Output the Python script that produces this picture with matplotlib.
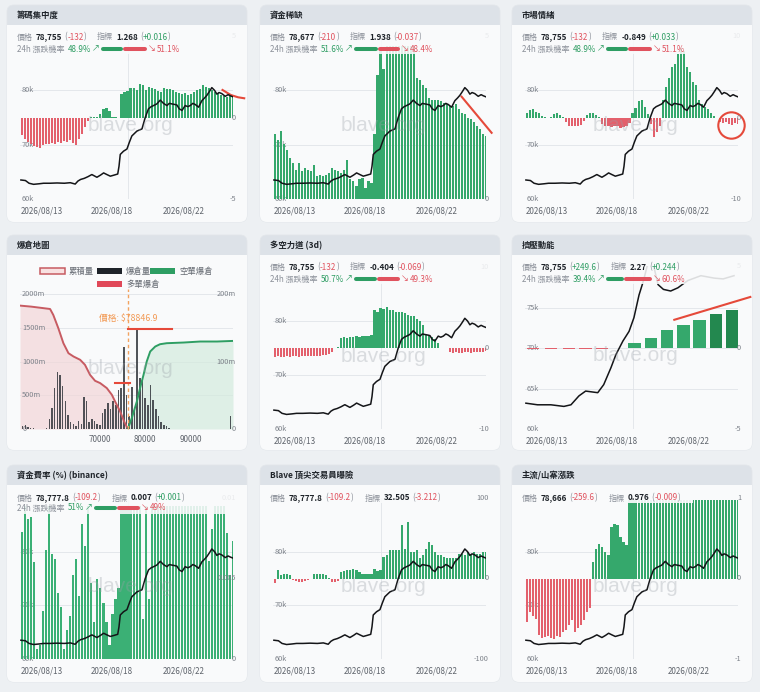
import matplotlib
matplotlib.use('Agg')
import numpy as np
import matplotlib.pyplot as plt
from matplotlib.patches import FancyBboxPatch, Rectangle
from matplotlib import transforms

plt.rcParams['font.family'] = ['Noto Sans CJK TC', 'DejaVu Sans']

W, H = 760, 692

# ---------------- data ----------------
# BTC price (k USD), days since 2026/08/13
price_day = [0.00, 0.25, 0.45, 0.70, 1.00, 1.25, 1.60, 2.00, 2.40, 2.73, 3.00, 3.15, 3.30,
             3.50, 3.70, 3.92, 4.20, 4.40, 4.57, 4.75, 4.94, 5.15, 5.35, 5.42, 5.49, 5.67,
             5.86, 6.00, 6.13, 6.41, 6.69, 6.87, 7.05, 7.20, 7.33, 7.51, 7.70, 7.88, 8.07,
             8.20, 8.34, 8.50, 8.62, 8.75, 8.90, 9.08, 9.22, 9.36, 9.50, 9.63, 9.82, 10.00,
             10.15, 10.28, 10.42, 10.55, 10.70, 10.83, 10.95, 11.10, 11.29, 11.45, 11.57, 11.72]
price_k = [63.5, 63.4, 62.9, 62.7, 62.8, 62.9, 62.9, 62.95, 62.9, 63.0, 62.75, 63.3, 63.6,
           63.8, 64.1, 64.5, 64.0, 64.4, 64.8, 64.5, 64.2, 64.4, 64.6, 66.0, 68.2, 68.8,
           69.2, 70.5, 71.6, 72.5, 72.9, 75.0, 76.6, 77.0, 77.2, 77.5, 78.2, 77.6, 77.2,
           77.6, 77.5, 77.4, 77.3, 76.6, 76.3, 77.2, 77.0, 77.2, 77.6, 77.4, 76.9, 78.1,
           78.6, 79.1, 79.8, 80.5, 80.0, 79.3, 79.6, 79.4, 78.9, 79.2, 79.0, 78.8]

date_day = [0, 5, 9]
date_lab = ['2026/08/13', '2026/08/18', '2026/08/22']
vlines = [5.93]

# 4h indicator bars
conc = [-1.1, -1.3, -1.5, -1.65, -1.75, -1.8, -1.85, -1.7, -1.6, -1.65, -1.55, -1.6, -1.5,
        -1.55, -1.45, -1.5, -1.4, -1.55, -1.7, -1.3, -1.0, -0.6, -0.2,
        0.03, 0.05, 0.02, 0.2, 0.5, 0.6, 0.4, 0.05, 0.02, -0.03,
        1.45, 1.55, 1.65, 1.78, 1.84, 1.7, 2.05, 2.0, 1.7, 1.85, 1.78, 1.72, 1.65, 1.58,
        1.78, 1.72, 1.72, 1.68, 1.58, 1.48, 1.43, 1.5, 1.38, 1.45, 1.58, 1.68, 1.72, 1.98,
        1.85, 1.78, 1.68, 1.58, 1.52, 1.4, 1.3, 1.27, 1.3, 1.27]
scarcity = [2.0, 1.8, 2.1, 1.7, 1.5, 1.25, 1.1, 0.9, 1.1, 0.85,
            0.95, 0.9, 0.85, 1.05, 0.7, 0.75, 0.7, 0.75, 0.8, 0.95,
            0.9, 0.85, 0.8, 0.9, 1.2, 0.6, 0.55, 0.4, 0.6, 0.65,
            0.35, 0.55, 0.5, 2.0, 3.8, 4.6, 4.0, 4.7, 4.7, 4.7,
            4.7, 4.7, 4.7, 4.7, 4.7, 4.7, 4.7, 3.7, 3.65, 3.5,
            3.4, 3.1, 3.05, 3.05, 3.05, 3.0, 2.95, 2.9, 2.85, 2.85,
            2.9, 2.75, 2.65, 2.6, 2.5, 2.45, 2.35, 2.25, 2.15, 2.0, 1.94]
sentiment = [0.5, 0.9, 1.1, 0.7, 0.5, 0.15, 0.05, 0.0, 0.05,
             0.4, 0.5, 0.3, 0.1,
             -0.6, -1.1, -1.1, -1.0, -1.1, -0.9, -0.4,
             0.3, 0.6, 0.5, 0.3, 0.1,
             -0.8, -1.0, -1.1, -1.2, -1.0, -1.1, -1.3, -1.2, -1.0, -0.7,
             0.6, 1.2, 2.0, 2.1, 1.3, 0.4,
             -0.8, -2.4, -1.8, -1.0,
             2.1, 3.8, 4.8, 6.2, 6.6, 7.8, 8.5, 8.2, 6.2, 5.6, 4.4, 4.0, 2.1, 1.7, 1.3, 1.1, 0.6, 0.2,
             -0.1, -0.6, -0.7, -0.6, -0.8, -0.9, -0.7, -0.85]
ls_force = [-1.05, -1.0, -1.1, -1.05, -1.0, -1.05, -1.0, -1.0, -1.05, -1.0,
            -1.0, -0.95, -1.0, -1.0, -0.95, -1.0, -0.9, -0.85, -0.7, -0.45,
            0.05, 0.1,
            1.2, 1.3, 1.25, 1.3, 1.35, 1.45, 1.4, 1.5, 1.45, 1.5, 1.6,
            4.7, 4.5, 4.95, 4.8, 5.1, 4.7, 4.75, 4.5, 4.5, 4.4, 4.3, 4.05, 4.0, 3.9, 3.6, 3.3, 2.9,
            1.6, 1.5, 1.4, 1.1, 0.6,
            0.05, 0.02, -0.05,
            -0.5, -0.6, -0.55, -0.6, -0.6, -0.5, -0.55, -0.6, -0.5, -0.45, -0.5, -0.45, -0.4]
funding = [0.0079, 0.0095, 0.0087, 0.0088, 0.006, 0.0006, 0.0009, 0.003, 0.0068, 0.0095,
           0.0065, 0.0062, 0.0041, 0.0032, 0.0006, 0.0018, 0.0027, 0.0052, 0.0062, 0.0039,
           0.0084, 0.007, 0.0095, 0.0047, 0.0023, 0.005, 0.0044, 0.0035, 0.0023, 0.0009,
           0.0028, 0.0037, 0.0044, 0.0095, 0.0095, 0.0095, 0.0095, 0.0095, 0.0095, 0.0095,
           0.0025, 0.0095, 0.0037, 0.0095, 0.0095, 0.0095, 0.0095, 0.0095, 0.0095, 0.0095,
           0.0095, 0.0095, 0.0095, 0.0095, 0.0095, 0.0095, 0.0095, 0.0095, 0.0095, 0.0095,
           0.0095, 0.0095, 0.0061, 0.0081, 0.0095, 0.0095, 0.0095, 0.0095, 0.0078, 0.0052, 0.0073]
top_trader = [-6, 10, 4, 6, 5, 4, -2, -3, -4, -4,
              -3, -2, -1, 5, 6, 6, 5, 4, 1, -4,
              -4, -3, 8, 9, 10, 10, 12, 10, 8, 6,
              6, 5, 6, 12, 9, 10, 27, 29, 35, 35,
              35, 35, 66, 37, 70, 33, 33, 35, 25, 29,
              37, 45, 41, 33, 29, 29, 27, 25, 25, 25,
              25, 31, 31, 29, 33, 31, 33, 31, 31, 33, 32.5]
alt_season = [-0.54, -0.42, -0.46, -0.5, -0.7, -0.74, -0.73, -0.71, -0.74, -0.75,
              -0.72, -0.73, -0.66, -0.64, -0.58, -0.52, -0.66, -0.62, -0.58, -0.52,
              -0.41, -0.37, 0.21, 0.37, 0.43, 0.39, 0.33, 0.29, 0.64, 0.68,
              0.66, 0.52, 0.45, 0.41] + [0.98] * 37

# squeeze momentum (daily) and its smoothed price
mom_day = [0.4, 1.4, 2.4, 3.3, 4.2, 6.0, 6.9, 7.8, 8.7, 9.6, 10.5, 11.4]
mom_val = [-0.1, -0.1, -0.1, -0.1, -0.1, 0.28, 0.6, 1.05, 1.4, 1.7, 2.03, 2.27]
mom_price_day = [0.0, 0.64, 1.38, 2.1, 2.49, 2.93, 3.3, 3.97, 4.3, 4.7, 4.97, 5.36, 5.7, 5.97,
                 6.25, 6.5, 6.7, 7.0, 7.3, 7.6, 8.0, 8.4, 8.7, 8.95, 9.67, 10.4, 10.9, 11.5]
mom_price_k = [63.2, 63.0, 63.0, 62.8, 63.0, 64.1, 64.7, 64.5, 65.5, 67.6, 69.2, 70.9, 72.1, 73.8,
               76.6, 78.4, 80.2, 80.8, 77.9, 77.3, 77.1, 77.5, 78.0, 78.4, 79.0, 78.7, 78.6, 79.0]

# liquidation map (price-level bins)
liq_vol = [0, 4, 6, 3, 2, 1, 0, 0, 0, 0, 2,
           15, 31, 61, 84, 80, 63, 41, 21, 10, 7,
           5, 12, 8, 47, 41, 10, 15, 12, 8, 6,
           24, 29, 38, 30, 41, 35, 58, 61, 122, 50,
           20, 62, 30, 150, 75, 73, 46, 36, 65, 43,
           30, 19, 11, 6, 4, 2, 0, 0, 0, 0] + [0] * 18 + [19]
long_cum_bin = [0, 4.2, 11.3, 12.5, 14.4, 16.3, 18.2, 20.1, 22.6, 24.4, 26.3, 28.2, 30.1,
                32.6, 34.5, 35.7, 37.6, 39.1, 40.5]
long_cum = [1828, 1813, 1778, 1690, 1493, 1271, 1123, 1074, 1025, 951, 803, 714, 680,
            606, 507, 409, 261, 113, 0]
short_cum_bin = [40.5, 42.0, 43.9, 45.1, 46.4, 47.6, 48.9, 50.8, 52.6, 55.1, 61.4, 67.7, 74.0, 80.0]
short_cum = [0, 163, 409, 606, 803, 1000, 1148, 1222, 1256, 1271, 1281, 1296, 1296, 1305]
liq_tick_bin = [30, 47, 64]
liq_tick_lab = ['70000', '80000', '90000']
liq_price_bin = 40.5
liq_price = 78846.9

# headers
titles = ['籌碼集中度', '資金稀缺', '市場情緒', '爆倉地圖', '多空力道 (3d)', '擠壓動能',
          '資金費率 (%) (binance)', 'Blave 頂尖交易員曝險', '主流/山寨漲跌']
h_price = ['78,755', '78,677', '78,755', None, '78,755', '78,755', '78,777.8', '78,777.8', '78,666']
h_pchg = ['-132', '-210', '-132', None, '-132', '+249.6', '-109.2', '-109.2', '-259.6']
h_ind = ['1.268', '1.938', '-0.849', None, '-0.404', '2.27', '0.007', '32.505', '0.976']
h_ichg = ['+0.016', '-0.037', '+0.033', None, '-0.069', '+0.244', '+0.001', '-3.212', '-0.009']
h_up = [48.9, 51.6, 48.9, None, 50.7, 39.4, 51, None, None]
h_up_txt = ['48.9%', '51.6%', '48.9%', None, '50.7%', '39.4%', '51%', None, None]
h_dn_txt = ['51.1%', '48.4%', '51.1%', None, '49.3%', '60.6%', '49%', None, None]

# ---------------- style ----------------
PAGE = '#edf0f3'
BAND = '#dde2e8'
BODY = '#f9fafb'
GRID = '#e1e4e8'
GREEN = '#35a86c'
RED = '#e3606c'
TGREEN = '#2e9d63'
TRED = '#e0525e'
GREY = '#8b9099'
DARK = '#1e2329'
ANNO = '#e5493a'

XMIN, XMAX = -0.05, 11.72
card_x = [7, 260, 512]
card_y = [5, 235, 465]
card_h = [217, 215, 217]
CW = 240

fig = plt.figure(figsize=(W / 100, H / 100), dpi=100)
fig.patch.set_facecolor(PAGE)
bg = fig.add_axes([0, 0, 1, 1], label='bg', zorder=0)
fg = fig.add_axes([0, 0, 1, 1], label='fg', zorder=30)
for a in (bg, fg):
    a.set_xlim(0, W)
    a.set_ylim(H, 0)
    a.axis('off')
renderer = fig.canvas.get_renderer()


def px_axes(x0, y0, x1, y1, label, z):
    ax = fig.add_axes([x0 / W, 1 - y1 / H, (x1 - x0) / W, (y1 - y0) / H], label=label, zorder=z)
    ax.axis('off')
    return ax


def card(cx, cy, ch, title):
    bg.add_patch(FancyBboxPatch((cx, cy), CW, ch, boxstyle='round,pad=0,rounding_size=7',
                                fc=BAND, ec='#e2e6ea', lw=0.6))
    bg.add_patch(FancyBboxPatch((cx, cy + 20), CW, ch - 20, boxstyle='round,pad=0,rounding_size=7',
                                fc=BODY, ec='none'))
    bg.add_patch(Rectangle((cx, cy + 20), CW, 10, fc=BODY, ec='none'))
    bg.text(cx + 10, cy + 10.5, title, fontsize=6, weight='bold', color=DARK, va='center')


def run(x, y, parts, size=5.8):
    for p in parts:
        if isinstance(p, (int, float)):
            x += p
        elif p[0] == 'bar':
            fg.plot([x + 2, x + p[2] - 2], [y, y], color=p[1], lw=2.9, solid_capstyle='round')
            x += p[2]
        else:
            t = fg.text(x, y, p[0], fontsize=size, color=p[1], weight=p[2], va='center', ha='left')
            x += t.get_window_extent(renderer).width
    return x


def chg_col(s):
    return TRED if s.startswith('-') else TGREEN


def header(i, cx, cy, r1, r2=None):
    if r2 is not None:
        fg.add_patch(Rectangle((cx + 1, cy + 20), CW - 2, 29, fc=BODY, ec='none', alpha=0.88))
    else:
        fg.add_patch(Rectangle((cx + 1, cy + 20), 180, 18, fc=BODY, ec='none', alpha=0.92))
    run(cx + 10, cy + r1, [('價格', GREY, 'normal'), 3, (h_price[i], DARK, 'bold'), 2,
                           ('(', GREY, 'normal'), (h_pchg[i], chg_col(h_pchg[i]), 'normal'),
                           (')', GREY, 'normal'), 11, ('指標', GREY, 'normal'), 3,
                           (h_ind[i], DARK, 'bold'), 2, ('(', GREY, 'normal'),
                           (h_ichg[i], chg_col(h_ichg[i]), 'normal'), (')', GREY, 'normal')])
    if r2 is not None:
        g = 46 * h_up[i] / 100
        run(cx + 10, cy + r2, [('24h 漲跌機率', GREY, 'normal'), 3, (h_up_txt[i], TGREEN, 'normal'), 1,
                               ('↗', TGREEN, 'normal'), 1, ('bar', TGREEN, g), ('bar', TRED, 46 - g), 1,
                               ('↘', TRED, 'normal'), 1, (h_dn_txt[i], TRED, 'normal')])


def watermark(ax):
    ax.text(0.52, 0.45, 'blave.org', transform=ax.transAxes, ha='center', va='center',
            fontsize=15, family='Liberation Sans', color='#9aa0a8', alpha=0.33, zorder=10)


def time_panel(i, cx, cy, top, vals, ylim, rticks, pday=price_day, pk=price_k,
               plim=(60, 90), lticks=(60, 70, 80), bx=None, width=0.12, colors=None):
    x0, x1, y0, y1 = cx + 13, cx + 226, cy + top, cy + 194
    axg = px_axes(x0, y0, x1, y1, f'g{i}', 2)
    axb = px_axes(x0, y0, x1, y1, f'b{i}', 3)
    axl = px_axes(x0, y0, x1, y1, f'l{i}', 4)
    for a in (axg, axb, axl):
        a.set_xlim(XMIN, XMAX)
    axg.set_ylim(*plim)
    axl.set_ylim(*plim)
    axb.set_ylim(*ylim)
    for v in lticks:
        axg.axhline(v, color=GRID, lw=0.6, zorder=0)
        axg.text(0.006, v, f'{v}k', transform=axg.get_yaxis_transform(), fontsize=5.3,
                 color='#7d828a', va='center', ha='left')
    axg.axvline(XMAX, color=GRID, lw=0.7, ls=(0, (3, 2)))
    for d in vlines:
        axg.axvline(d, color=GRID, lw=0.6)
    rtr = transforms.offset_copy(axb.get_yaxis_transform(), fig=fig, x=3, units='dots')
    for v, s in rticks:
        axb.text(1, v, s, transform=rtr, ha='right', va='center', fontsize=5.3, color='#7d828a')
    dtr = transforms.offset_copy(axg.get_xaxis_transform(), fig=fig, y=-12, units='dots')
    for k, (d, s) in enumerate(zip(date_day, date_lab)):
        axg.text(d, 0, s, transform=dtr, ha='left' if k == 0 else 'center', va='center',
                 fontsize=5.8, color='#5f646c')
    if bx is None:
        bx = np.arange(len(vals)) / 6 + 0.06
    if colors is None:
        colors = [GREEN if v >= 0 else RED for v in vals]
    axb.bar(bx, vals, width=width, color=colors, lw=0)
    axl.plot(pday, pk, color='#141518', lw=1.1)
    watermark(axl)
    return axb


# ---------------- cards ----------------
for i in range(9):
    r, c = divmod(i, 3)
    card(card_x[c], card_y[r], card_h[r], titles[i])

# 籌碼集中度
cx, cy = card_x[0], card_y[0]
ax = time_panel(0, cx, cy, 31, conc, (-5, 5), [(5, '5'), (0, '0'), (-5, '-5')])
ax.plot([11.14, 11.6, 12.0, 12.34], [1.69, 1.38, 1.24, 1.18], color=ANNO, lw=1.5, clip_on=False)
header(0, cx, cy, 32, 44)

# 資金稀缺
cx, cy = card_x[1], card_y[0]
ax = time_panel(1, cx, cy, 31, scarcity, (0, 5), [(5, '5'), (0, '0')])
ax.plot([10.37, 12.03], [3.14, 2.03], color=ANNO, lw=1.5, clip_on=False)
header(1, cx, cy, 32, 44)

# 市場情緒
cx, cy = card_x[2], card_y[0]
ax = time_panel(2, cx, cy, 31, sentiment, (-10, 10), [(10, '10'), (0, '0'), (-10, '-10')])
ax.plot([11.33], [-0.94], marker='o', ms=19, mfc='none', mec=ANNO, mew=1.5, clip_on=False)
header(2, cx, cy, 32, 44)

# 爆倉地圖
cx, cy = card_x[0], card_y[1]
x0, x1, y0, y1 = cx + 13, cx + 226, cy + 59, cy + 194
axc = px_axes(x0, y0, x1, y1, 'cum', 2)
axv = px_axes(x0, y0, x1, y1, 'vol', 3)
axc2 = px_axes(x0, y0, x1, y1, 'cum2', 4)
for a in (axc, axv, axc2):
    a.set_xlim(0, 80)
axc.set_ylim(0, 2000)
axc2.set_ylim(0, 2000)
axv.set_ylim(0, 200)
for v, s in zip([0, 500, 1000, 1500, 2000], ['0', '500m', '1000m', '1500m', '2000m']):
    axc.axhline(v, color=GRID, lw=0.6, zorder=0)
    axc.text(0.01, v, s, transform=axc.get_yaxis_transform(), fontsize=5.3, color='#7d828a',
             va='center', ha='left')
rtr = transforms.offset_copy(axv.get_yaxis_transform(), fig=fig, x=3, units='dots')
for v, s in [(200, '200m'), (100, '100m'), (0, '0')]:
    axv.text(1, v, s, transform=rtr, ha='right', va='center', fontsize=5.3, color='#7d828a')
axc.axvline(80, color=GRID, lw=0.7, ls=(0, (3, 2)))
axc.fill_between(long_cum_bin, long_cum, color='#f2d6d8', alpha=0.7, lw=0)
axc.fill_between(short_cum_bin, short_cum, color='#d3ebde', alpha=0.7, lw=0)
axv.bar(np.arange(len(liq_vol)), liq_vol, width=0.55, color='#34383e', alpha=0.85, lw=0)
axc2.plot(long_cum_bin, long_cum, color='#c75b62', lw=1.4)
axc2.plot(short_cum_bin, short_cum, color='#2e9e63', lw=1.4)
axc2.axvline(liq_price_bin, ymax=1.04, color='#f3a35f', lw=1, ls=(0, (2.5, 2)), clip_on=False)
axc2.text(liq_price_bin, 1640, f'價格: ${liq_price}', color='#f29a55', fontsize=6.3,
          ha='center', va='center')
axc2.plot([35.7, 41.4], [680, 680], color=ANNO, lw=1.5)
axc2.plot([40.7, 57.1], [1483, 1483], color=ANNO, lw=1.5)
xtr = transforms.offset_copy(axc.get_xaxis_transform(), fig=fig, y=-11, units='dots')
for b, s in zip(liq_tick_bin, liq_tick_lab):
    axc.text(b, 0, s, transform=xtr, ha='center', va='center', fontsize=5.8, color='#5f646c')
watermark(axc2)
legend = [(cx + 33, cy + 36, '#f8e1e1', '#c75b62', '累積量'),
          (cx + 90, cy + 36, '#1e2329', 'none', '爆倉量'),
          (cx + 143, cy + 36, '#2e9e63', 'none', '空單爆倉'),
          (cx + 90, cy + 49, '#e04858', 'none', '多單爆倉')]
for lx, ly, fc, ec, s in legend:
    fg.add_patch(Rectangle((lx, ly - 3), 25, 6, fc=fc, ec=ec, lw=1.1))
    fg.text(lx + 29, ly, s, fontsize=6, color='#666b73', va='center', ha='left')

# 多空力道 (3d)
cx, cy = card_x[1], card_y[1]
time_panel(4, cx, cy, 32, ls_force, (-10, 10), [(10, '10'), (0, '0'), (-10, '-10')])
header(4, cx, cy, 32, 44)

# 擠壓動能
cx, cy = card_x[2], card_y[1]
mcol = [RED if v < 0 else GREEN for v in mom_val]
mcol[-2:] = ['#23884f', '#23884f']
ax = time_panel(5, cx, cy, 31, mom_val, (-5, 5), [(5, '5'), (0, '0'), (-5, '-5')],
                pday=mom_price_day, pk=mom_price_k, plim=(60, 80.2), lticks=(60, 65, 70, 75),
                bx=mom_day, width=0.68, colors=mcol)
ax.plot([8.2, 12.4], [1.7, 3.1], color=ANNO, lw=1.5, clip_on=False)
header(5, cx, cy, 32, 44)

# 資金費率
cx, cy = card_x[0], card_y[2]
time_panel(6, cx, cy, 33, funding, (0, 0.01), [(0.01, '0.01'), (0.005, '0.005'), (0, '0')],
           colors=['#3bb075'] * len(funding))
header(6, cx, cy, 33, 43)

# Blave 頂尖交易員曝險
cx, cy = card_x[1], card_y[2]
time_panel(7, cx, cy, 33, top_trader, (-100, 100), [(100, '100'), (0, '0'), (-100, '-100')])
header(7, cx, cy, 33)

# 主流/山寨漲跌
cx, cy = card_x[2], card_y[2]
time_panel(8, cx, cy, 33, alt_season, (-1, 1), [(1, '1'), (0, '0'), (-1, '-1')])
header(8, cx, cy, 33)

fig.savefig('out.png', dpi=100, facecolor=PAGE)
